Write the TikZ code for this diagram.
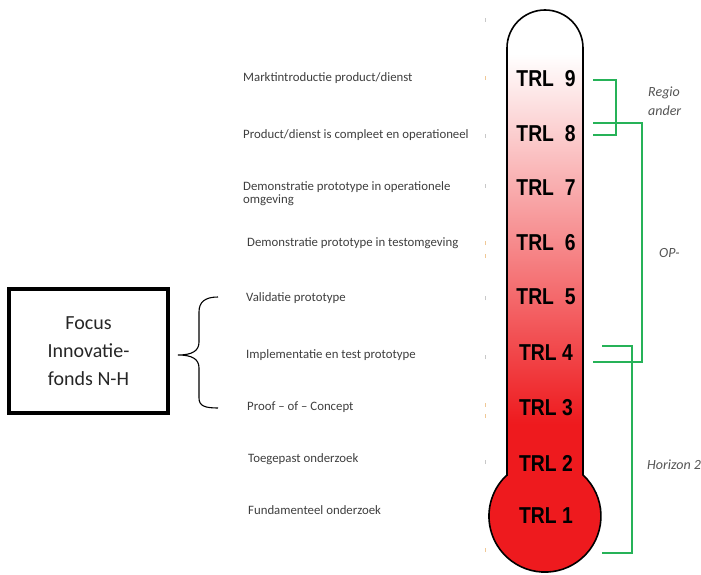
\documentclass[tikz,border=0pt]{standalone}
\usepackage{fontspec}
\setmainfont{Carlito}
\newfontfamily\trlfont{Liberation Sans}

\definecolor{thermred}{RGB}{238,26,30}
\definecolor{bracketgreen}{RGB}{38,178,88}
\definecolor{labelgray}{RGB}{62,62,62}
\definecolor{sidegray}{RGB}{85,85,85}
\definecolor{tickorange}{RGB}{240,200,150}
\definecolor{tickgray}{RGB}{200,200,200}

\tikzset{
  trl/.style={font=\trlfont\fontsize{23}{23}\selectfont\bfseries, xscale=0.84, inner sep=0pt},
  level/.style={anchor=west, font=\fontsize{12.8}{13}\selectfont, text=labelgray, inner sep=0pt, align=left},
  side/.style={anchor=west, font=\fontsize{14}{14}\selectfont\itshape, text=sidegray, inner sep=0pt},
  grn/.style={draw=bracketgreen, line width=1.8pt},
  focusbox/.style={draw, line width=4pt, minimum width=159pt, minimum height=124pt, align=center,
    font=\fontsize{20}{28}\selectfont, text=black!85}
}

\begin{document}
\begin{tikzpicture}[x=1pt,y=1pt]

\useasboundingbox (0,0) rectangle (701,574);
\clip (0,0) rectangle (701,574);

% thermometer
\begin{scope}
\clip (507,99) -- (507,526) arc[start angle=180, end angle=0, radius=38]
  -- (583,99) arc[start angle=47.2, end angle=-227.2, radius=56] -- cycle;
\fill[thermred] (480,0) rectangle (610,574);
\shade[top color=white, bottom color=thermred] (480,150) rectangle (610,520);
\fill[white] (480,520) rectangle (610,574);
\end{scope}

\draw[line width=1.6pt] (507,99) -- (507,526) arc[start angle=180, end angle=0, radius=38]
  -- (583,99) arc[start angle=47.2, end angle=-227.2, radius=56] -- cycle;

\node[trl] (trl9) at (546,495) {TRL\ \ 9};
\node[trl] (trl8) at (546,440) {TRL\ \ 8};
\node[trl] (trl7) at (546,386) {TRL\ \ 7};
\node[trl] (trl6) at (546,331) {TRL\ \ 6};
\node[trl] (trl5) at (546,277) {TRL\ \ 5};
\node[trl] (trl4) at (546,221) {TRL 4};
\node[trl] (trl3) at (546,166) {TRL 3};
\node[trl] (trl2) at (546,111) {TRL 2};
\node[trl] (trl1) at (546,58) {TRL 1};

% levels
\node[level] (lev9) at (243,496) {Marktintroductie product/dienst};
\node[level] (lev8) at (243,439) {Product/dienst is compleet en operationeel};
\node[level] (lev7) at (243,380.5) {Demonstratie prototype in operationele\\omgeving};
\node[level] (lev6) at (247,331) {Demonstratie prototype in testomgeving};
\node[level] (lev5) at (246,276) {Validatie prototype};
\node[level] (lev4) at (246,219) {Implementatie en test prototype};
\node[level] (lev3) at (247,167) {Proof -- of -- Concept};
\node[level] (lev2) at (248,115) {Toegepast onderzoek};
\node[level] (lev1) at (248,64) {Fundamenteel onderzoek};

\foreach \y in {554,438,388,276,217,112}
  \draw[tickgray, line width=0.8pt] (485,\y-2) -- (485,\y+2);
\foreach \y in {496,331,318,169,158,24}
  \draw[tickorange, line width=0.8pt] (485,\y-2) -- (485,\y+2);

% focus box and brace
\node[focusbox] (focus) at (88.5,223) {Focus\\Innovatie-\\fonds N-H};
\draw[line width=1.1pt] (218,277) .. controls (205,277) and (199,272) .. (199,262) -- (199,232)
  .. controls (199,223) and (192,219) .. (178,219)
  .. controls (192,219) and (199,215) .. (199,206) -- (199,176)
  .. controls (199,168) and (205,166) .. (218,166);

% brackets
\draw[grn] (593,494) -- (616,494) -- (616,439) -- (593,439);
\draw[grn] (593,451) -- (642,451) -- (642,212) -- (593,212);
\draw[grn] (602,228) -- (632,228) -- (632,21) -- (602,21);

\begin{scope}
\clip (640,440) rectangle (681,500);
\node[side] (regio) at (648,481) {Regio};
\node[side] (ander) at (648,463) {ander};
\end{scope}
\node[side] (op) at (659,321) {OP-};
\node[side] (horizon) at (647,109) {Horizon 2};

\end{tikzpicture}
\end{document}
